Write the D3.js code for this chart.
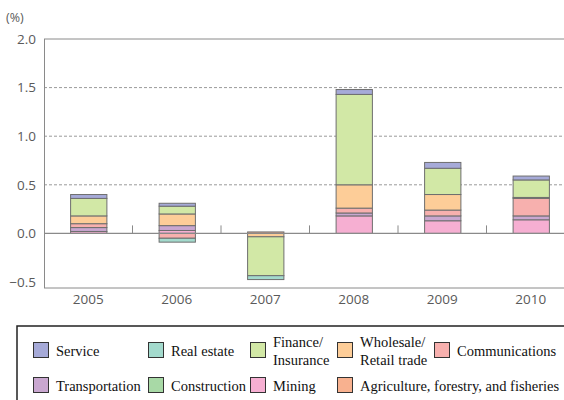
<!DOCTYPE html>
<html>
<head>
<meta charset="utf-8">
<script src="https://cdn.jsdelivr.net/npm/d3@7/dist/d3.min.js"></script>
<style>
  html, body { margin: 0; padding: 0; background: #fff; }
  svg { display: block; }
</style>
</head>
<body>
<svg id="chart" width="564" height="400"></svg>
<script>
// Contribution by industry (percentage points), one stacked bar per year
const years = ["2005", "2006", "2007", "2008", "2009", "2010"];
const service        = [0.04,  0.03,  0.00,  0.05, 0.06, 0.04];
const realEstate     = [0.00, -0.04, -0.04,  0.00, 0.00, 0.00];
const finance        = [0.18,  0.08, -0.40,  0.93, 0.27, 0.18];
const wholesale      = [0.08,  0.12, -0.035, 0.24, 0.16, 0.01];
const communications = [0.04, -0.05,  0.00,  0.05, 0.06, 0.18];
const transportation = [0.04,  0.05,  0.00,  0.03, 0.05, 0.04];
const construction   = [0.00,  0.00,  0.00,  0.00, 0.00, 0.00];
const mining         = [0.02,  0.03,  0.00,  0.18, 0.13, 0.14];
const agriculture    = [0.00,  0.00,  0.015, 0.00, 0.00, 0.00];
const yTicks = [-0.5, 0.0, 0.5, 1.0, 1.5, 2.0];

// Legend entries in reading order (two rows)
const legendRows = [
  [["service", "Service"], ["realEstate", "Real estate"], ["finance", "Finance/\nInsurance"],
   ["wholesale", "Wholesale/\nRetail trade"], ["communications", "Communications"]],
  [["transportation", "Transportation"], ["construction", "Construction"], ["mining", "Mining"],
   ["agriculture", "Agriculture, forestry, and fisheries"]]
];

const series = { service, realEstate, finance, wholesale, communications,
                 transportation, construction, mining, agriculture };
// Stacking order, bottom to top
const keys = ["agriculture", "mining", "construction", "transportation", "communications",
              "wholesale", "finance", "realEstate", "service"];
const colors = {
  service: "#a6aad8", realEstate: "#a3dacd", finance: "#d2e8a6", wholesale: "#fdcd98",
  communications: "#f7b0ae", transportation: "#c9a7d0", construction: "#a8d9a6",
  mining: "#f6afd2", agriculture: "#f8b18f"
};

const rows = years.map((yr, i) => {
  const r = { year: yr };
  keys.forEach(k => r[k] = series[k][i]);
  return r;
});

const svg = d3.select("#chart");
const left = 44, right = 575, frameBottom = 288;

const x = d3.scaleBand().domain(years).range([left, right])
  .paddingInner(0.59).paddingOuter(0.295);
const y = d3.scaleLinear().domain([-0.5, 2.0]).range([282, 39]);

const axisFont = "'Open Sans', sans-serif";

// Dashed gridlines
svg.append("g").selectAll("line")
  .data(yTicks.filter(t => t > 0 && t < 2))
  .join("line")
  .attr("x1", left).attr("x2", 564)
  .attr("y1", d => y(d)).attr("y2", d => y(d))
  .attr("stroke", "#9a9a9a").attr("stroke-width", 1)
  .attr("stroke-dasharray", "3,2");

// Frame: top and left, bottom baseline
svg.append("line").attr("x1", left).attr("x2", 564).attr("y1", y(2.0)).attr("y2", y(2.0))
  .attr("stroke", "#8a8a8a");
svg.append("line").attr("x1", left + 0.5).attr("x2", left + 0.5).attr("y1", y(2.0)).attr("y2", frameBottom)
  .attr("stroke", "#8a8a8a");
svg.append("line").attr("x1", left).attr("x2", 564).attr("y1", frameBottom).attr("y2", frameBottom)
  .attr("stroke", "#8a8a8a");

// Stacked bars
const stacked = d3.stack().keys(keys).offset(d3.stackOffsetDiverging)(rows);
svg.append("g").selectAll("g")
  .data(stacked)
  .join("g")
  .attr("fill", d => colors[d.key])
  .selectAll("rect")
  .data(d => d.filter(s => s[1] !== s[0]))
  .join("rect")
  .attr("x", d => x(d.data.year) + 0.5)
  .attr("width", x.bandwidth())
  .attr("y", d => y(Math.max(d[0], d[1])))
  .attr("height", d => Math.abs(y(d[0]) - y(d[1])))
  .attr("stroke", "#6e6e6e")
  .attr("stroke-width", 1);

// Zero line with small boundary ticks
svg.append("line").attr("x1", left).attr("x2", 564).attr("y1", y(0)).attr("y2", y(0))
  .attr("stroke", "#8a8a8a").attr("stroke-width", 1.2);
const step = x.step();
svg.append("g").selectAll("line")
  .data(years.slice(1))
  .join("line")
  .attr("x1", d => x(d) - step * x.paddingInner() / 2)
  .attr("x2", d => x(d) - step * x.paddingInner() / 2)
  .attr("y1", y(0) - 8).attr("y2", y(0))
  .attr("stroke", "#8a8a8a");

// Y axis labels
svg.append("g").selectAll("text")
  .data(yTicks)
  .join("text")
  .attr("x", 36).attr("y", d => y(d))
  .attr("dy", "0.35em")
  .attr("text-anchor", "end")
  .attr("font-family", axisFont).attr("font-size", 13.5)
  .attr("fill", "#5a5a5a")
  .text(d => d3.format(".1f")(d));
svg.append("text").attr("x", 6).attr("y", 18).attr("dy", "0.35em")
  .attr("font-family", axisFont).attr("font-size", 12.5).attr("fill", "#5a5a5a")
  .text("(%)");

// Year labels
svg.append("g").selectAll("text")
  .data(years)
  .join("text")
  .attr("x", d => x(d) + x.bandwidth() / 2)
  .attr("y", 299).attr("dy", "0.35em")
  .attr("text-anchor", "middle")
  .attr("font-family", axisFont).attr("font-size", 13.5)
  .attr("fill", "#5a5a5a")
  .text(d => d);

// Legend
const legend = svg.append("g");
legend.append("rect").attr("x", 17).attr("y", 326).attr("width", 570).attr("height", 90)
  .attr("fill", "#fff").attr("stroke", "#222").attr("stroke-width", 1.5);
const colX = [33, 148, 250, 337, 434];
const rowY = [342, 377];
legendRows.forEach((row, ri) => {
  row.forEach(([key, label], ci) => {
    const gx = colX[ci], gy = rowY[ri];
    legend.append("rect").attr("x", gx + 0.5).attr("y", gy + 0.5).attr("width", 15).attr("height", 15)
      .attr("fill", colors[key]).attr("stroke", "#333").attr("stroke-width", 1);
    const lines = label.split("\n");
    const t = legend.append("text")
      .attr("font-family", "'Liberation Serif', 'Times New Roman', serif")
      .attr("font-size", 14.5).attr("fill", "#111");
    lines.forEach((ln, li) => {
      t.append("tspan").attr("x", gx + 23)
        .attr("y", gy + 9 + (li - (lines.length - 1) / 2) * 17.5)
        .attr("dy", "0.35em").text(ln);
    });
  });
});
</script>
</body>
</html>
